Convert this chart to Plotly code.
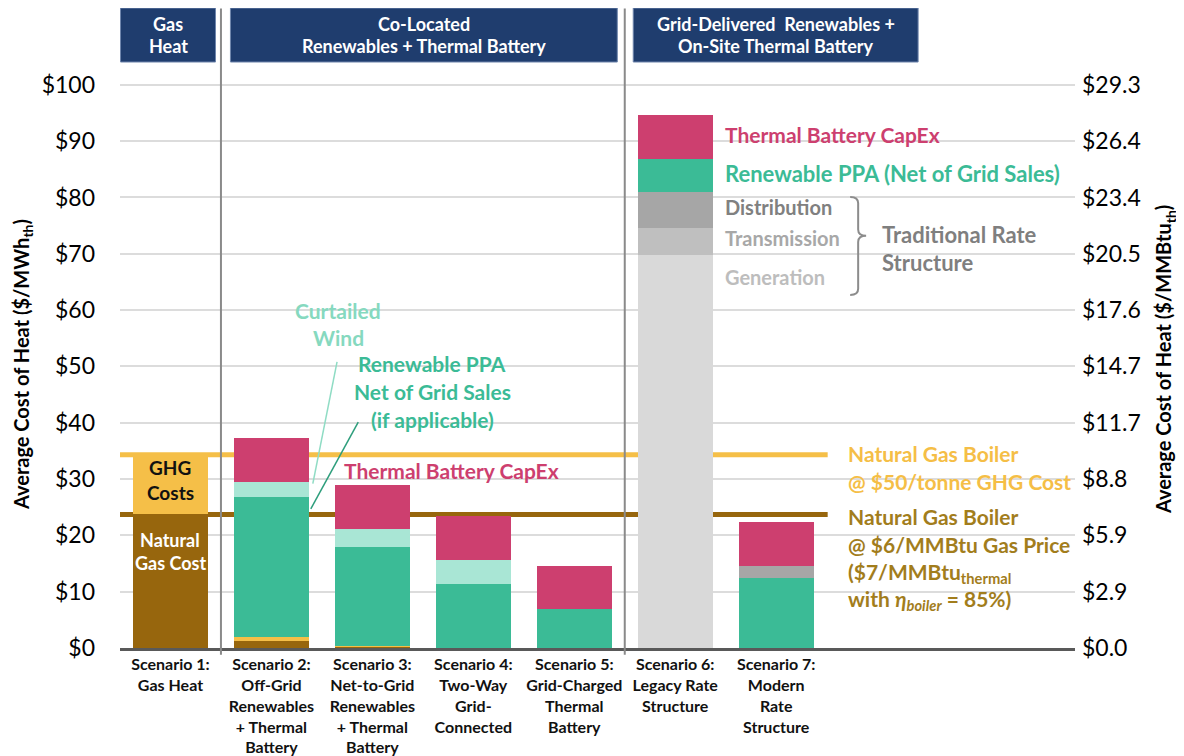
import plotly.graph_objects as go

# ---------------- data ----------------
scenarios = [
    "Scenario 1:<br>Gas Heat",
    "Scenario 2:<br>Off-Grid<br>Renewables<br>+ Thermal<br>Battery",
    "Scenario 3:<br>Net-to-Grid<br>Renewables<br>+ Thermal<br>Battery",
    "Scenario 4:<br>Two-Way<br>Grid-<br>Connected",
    "Scenario 5:<br>Grid-Charged<br>Thermal<br>Battery",
    "Scenario 6:<br>Legacy Rate<br>Structure",
    "Scenario 7:<br>Modern<br>Rate<br>Structure",
]
x_pos = [0, 1, 2, 3, 4, 5, 6]

natural_gas = [23.8, 1.2, 0.25, 0, 0, 0, 0]
ghg_costs = [10.5, 0.7, 0.15, 0, 0, 0, 0]
ppa_base = [0, 25.0, 17.6, 11.3, 6.9, 0, 12.4]
curtailed_wind = [0, 2.5, 3.2, 4.4, 0, 0, 0]
generation = [0, 0, 0, 0, 0, 69.7, 0]
transmission = [0, 0, 0, 0, 0, 4.8, 0]
distribution = [0, 0, 0, 0, 0, 6.5, 2.1]
ppa_top = [0, 0, 0, 0, 0, 5.8, 0]
capex = [0, 7.9, 7.7, 7.7, 7.7, 7.8, 7.8]

gas_boiler_ghg = 34.3
gas_boiler = 23.7

left_ticks = [0, 10, 20, 30, 40, 50, 60, 70, 80, 90, 100]
left_ticktext = ["$0", "$10", "$20", "$30", "$40", "$50", "$60", "$70", "$80", "$90", "$100"]
mwh_per_mmbtu = 3.412
right_ticktext = ["$0.0", "$2.9", "$5.9", "$8.8", "$11.7", "$14.7", "$17.6", "$20.5", "$23.4", "$26.4", "$29.3"]

# ---------------- style ----------------
FONT = "Lato"
C_GAS = "#97660d"
C_GHG = "#f5bf48"
C_PPA = "#3bbb96"
C_CURT = "#a9e6d5"
C_GEN = "#d9d9d9"
C_TRANS = "#bfbfbf"
C_DIST = "#a6a6a6"
C_CAPEX = "#cd3f6f"
C_NAVY = "#1f3d6e"

fig = go.Figure()

def add_bar(vals, color, name):
    fig.add_trace(go.Bar(x=x_pos, y=vals, name=name, marker=dict(color=color, line=dict(width=0)),
                         width=0.74, showlegend=False, hoverinfo="skip"))

add_bar(natural_gas, C_GAS, "Natural Gas")
add_bar(ghg_costs, C_GHG, "GHG Costs")
add_bar(ppa_base, C_PPA, "Renewable PPA")
add_bar(curtailed_wind, C_CURT, "Curtailed Wind")
add_bar(generation, C_GEN, "Generation")
add_bar(transmission, C_TRANS, "Transmission")
add_bar(distribution, C_DIST, "Distribution")
add_bar(ppa_top, C_PPA, "Renewable PPA (Net)")
add_bar(capex, C_CAPEX, "Thermal Battery CapEx")

# invisible trace to activate right axis
fig.add_trace(go.Scatter(x=[0], y=[0], yaxis="y2", mode="markers",
                         marker=dict(opacity=0), showlegend=False, hoverinfo="skip"))

shapes = []
# reference lines (behind bars)
shapes.append(dict(type="line", xref="x", yref="y", x0=-0.5, x1=6.51, y0=gas_boiler_ghg, y1=gas_boiler_ghg,
                   line=dict(color=C_GHG, width=5), layer="below"))
shapes.append(dict(type="line", xref="x", yref="y", x0=-0.5, x1=6.51, y0=gas_boiler, y1=gas_boiler,
                   line=dict(color=C_GAS, width=5), layer="below"))
# separators
for xs in [0.5, 4.5]:
    shapes.append(dict(type="line", xref="x", yref="paper", x0=xs, x1=xs, y0=-0.012, y1=1.13,
                       line=dict(color="#8a8a8a", width=2)))
# header boxes
headers = [
    (-0.495, 0.446, ["Gas", "Heat"]),
    (0.594, 4.426, ["Co-Located", "Renewables + Thermal Battery"]),
    (4.584, 7.406, ["Grid-Delivered  Renewables +", "On-Site Thermal Battery"]),
]
annotations = []
for x0, x1, lines in headers:
    shapes.append(dict(type="rect", xref="x", yref="paper", x0=x0, x1=x1, y0=1.0353, y1=1.1307,
                       fillcolor=C_NAVY, line=dict(color="#6f86ad", width=1)))
    for ln, py in zip(lines, [1.1025, 1.0636]):
        annotations.append(dict(x=(x0 + x1) / 2, y=py, xref="x", yref="paper", text="<b>%s</b>" % ln,
                                showarrow=False, font=dict(family=FONT, size=18, color="white"),
                                xanchor="center", yanchor="middle"))

# leader lines
shapes.append(dict(type="line", xref="x", yref="y", x0=1.65, y0=50.8, x1=1.41, y1=29.2,
                   line=dict(color="#8fdcc4", width=1.5)))
shapes.append(dict(type="line", xref="x", yref="y", x0=1.86, y0=40.1, x1=1.39, y1=24.7,
                   line=dict(color="#2e9e7c", width=1.5)))
# bracket
shapes.append(dict(type="path", xref="x", yref="y",
                   path="M 6.733,80.1 Q 6.812,80.1 6.812,79.0 L 6.812,74.3 Q 6.812,73.2 6.891,73.2 "
                        "Q 6.812,73.2 6.812,72.1 L 6.812,63.8 Q 6.812,62.7 6.733,62.7",
                   line=dict(color="#8c8c8c", width=2)))

def txt(x, y, s, color, size, anchor="center", bold=True):
    annotations.append(dict(x=x, y=y, xref="x", yref="y", text=("<b>%s</b>" % s) if bold else s,
                            showarrow=False, font=dict(family=FONT, size=size, color=color),
                            xanchor=anchor, yanchor="middle"))

# bar 1 labels
txt(0, 32.0, "GHG", "#111111", 19)
txt(0, 27.7, "Costs", "#111111", 19)
txt(0, 19.2, "Natural", "white", 18)
txt(0, 15.1, "Gas Cost", "white", 18)

# middle labels
txt(1.663, 59.9, "Curtailed", "#86d9bf", 21)
txt(1.663, 55.1, "Wind", "#86d9bf", 21)
txt(2.594, 50.6, "Renewable PPA", C_PPA, 21)
txt(2.594, 45.5, "Net of Grid Sales", C_PPA, 21)
txt(2.594, 40.5, "(if applicable)", C_PPA, 21)
txt(2.78, 31.6, "Thermal Battery CapEx", C_CAPEX, 21)

# scenario 6 labels
txt(5.475, 91.1, "Thermal Battery CapEx", C_CAPEX, 21, "left")
txt(5.475, 84.2, "Renewable PPA (Net of Grid Sales)", C_PPA, 22, "left")
txt(5.475, 78.3, "Distribution", "#808080", 20, "left")
txt(5.475, 72.8, "Transmission", "#a8a8a8", 20, "left")
txt(5.475, 65.9, "Generation", "#bdbdbd", 20, "left")
txt(7.03, 73.5, "Traditional Rate", "#7f7f7f", 22, "left")
txt(7.03, 68.4, "Structure", "#7f7f7f", 22, "left")

# gas boiler labels
C_GHG_TXT = "#f5be46"
C_GAS_TXT = "#a27d1c"
txt(6.693, 34.6, "Natural Gas Boiler", C_GHG_TXT, 21, "left")
txt(6.693, 29.5, "@ $50/tonne GHG Cost", C_GHG_TXT, 21, "left")
txt(6.693, 23.4, "Natural Gas Boiler", C_GAS_TXT, 21, "left")
txt(6.693, 18.3, "@ $6/MMBtu Gas Price", C_GAS_TXT, 21, "left")
txt(6.693, 13.3, "($7/MMBtu<sub>thermal</sub>", C_GAS_TXT, 21, "left")
txt(6.693, 8.5, "with <i>η<sub>boiler</sub></i> = 85%)", C_GAS_TXT, 21, "left")

# axis titles
annotations.append(dict(x=-0.1026, y=0.5, xref="paper", yref="paper", textangle=-90,
                        text="<b>Average Cost of Heat ($/MWh<sub>th</sub>)</b>", showarrow=False,
                        font=dict(family=FONT, size=20, color="black"), xanchor="center", yanchor="middle"))
annotations.append(dict(x=1.094, y=0.51, xref="paper", yref="paper", textangle=-90,
                        text="<b>Average Cost of Heat ($/MMBtu<sub>th</sub>)</b>", showarrow=False,
                        font=dict(family=FONT, size=20, color="black"), xanchor="center", yanchor="middle"))

# the page adds an 8px body margin, so the figure is drawn 8px smaller
fig.update_layout(
    width=1176, height=748,
    margin=dict(l=112, r=109, t=74, b=108, autoexpand=False),
    barmode="stack", bargap=0,
    plot_bgcolor="white", paper_bgcolor="white",
    shapes=shapes, annotations=annotations,
    font=dict(family=FONT, color="black"),
    xaxis=dict(range=[-0.5, 8.96], tickmode="array", tickvals=x_pos,
               ticktext=["<b>%s</b>" % s for s in scenarios],
               tickfont=dict(family=FONT, size=16, color="#111111"),
               showline=True, linecolor="#595959", linewidth=3, ticks="",
               showgrid=False, zeroline=False, fixedrange=True, automargin=False),
    yaxis=dict(range=[0, 100.5], tickmode="array", tickvals=left_ticks, ticktext=left_ticktext,
               tickfont=dict(family=FONT, size=23, color="black"), showgrid=True,
               gridcolor="#dcdcdc", gridwidth=2, zeroline=False, ticks="", ticklabelstandoff=24,
               automargin=False),
    yaxis2=dict(range=[0, 100.5 / mwh_per_mmbtu], overlaying="y", side="right", tickmode="array",
                tickvals=[v / mwh_per_mmbtu for v in left_ticks], ticktext=right_ticktext,
                tickfont=dict(family=FONT, size=23, color="black"), showgrid=False, zeroline=False,
                ticks="", ticklabelstandoff=6, automargin=False),
)

fig.write_html("out.html")
